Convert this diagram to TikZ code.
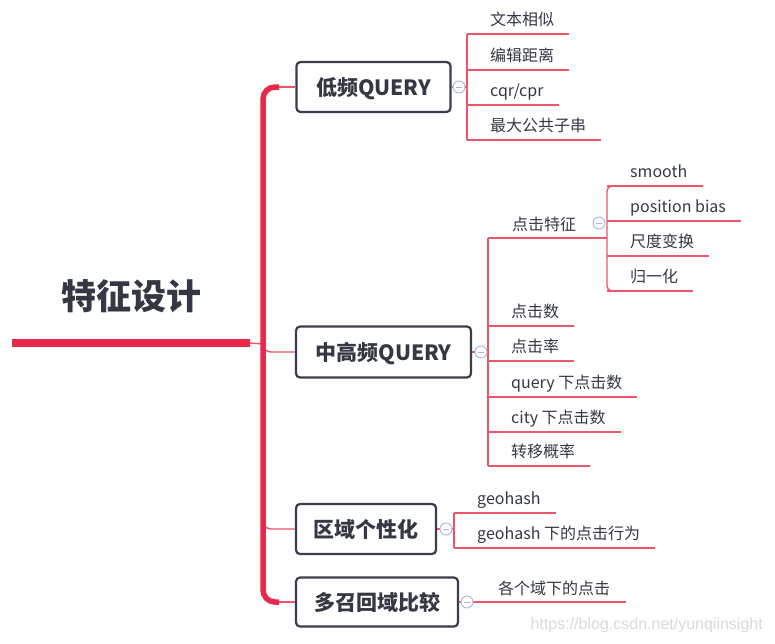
\documentclass[tikz,border=0pt]{standalone}
\usepackage{fontspec}
\setmainfont{Noto Sans CJK SC}
\newfontfamily\wmfont{Liberation Sans}
\definecolor{trunkred}{RGB}{232,41,74}
\definecolor{linered}{RGB}{236,85,108}
\definecolor{boxborder}{RGB}{58,62,74}
\definecolor{txt}{RGB}{52,56,66}
\definecolor{circ}{RGB}{170,182,220}
\newcommand\mmleaf[4]{%
  \node[leaf] (#1) at (#2+23,#3-8.5) {#4};
  \draw[thinline] (#2,#3) -- ([xshift=15pt,yshift=-8.5pt]#1.base east);}
\begin{document}
\begin{tikzpicture}[x=1pt,y=-1pt,
  mainbox/.style={draw=boxborder, line width=2.2pt, rounded corners=4pt, fill=white,
    text=txt, font=\fontsize{21}{24}\selectfont\bfseries,
    text height=18.5pt, text depth=2.5pt, inner sep=0pt, align=center},
  leaf/.style={anchor=base west, text=txt, font=\fontsize{16}{19}\selectfont, inner sep=0pt},
  thinline/.style={draw=linered, line width=1.4pt},
  collapse/.style={circle, draw=circ, fill=white, line width=0.9pt, minimum size=12pt,
    inner sep=0pt, path picture={\draw[circ, line width=0.9pt]
      ([xshift=-3pt]path picture bounding box.center) -- ([xshift=3pt]path picture bounding box.center);}}]
\useasboundingbox (0,0) rectangle (775,643);

% root
\node[font=\fontsize{35}{40}\selectfont\bfseries, text=txt, inner sep=0pt] (root) at (131,296) {特征设计};
\coordinate (rootL) at (12,343);
\coordinate (rootR) at (250,343);
\coordinate (rootJ) at (263,344);
\draw[trunkred, line width=8pt] (rootL) -- (rootR);
\draw[thinline] (rootR) -- (rootJ);

% main boxes
\node[mainbox, minimum width=154pt, minimum height=50pt] (low) at (373.5,87) {低频QUERY};
\node[mainbox, minimum width=175pt, minimum height=51pt] (mid) at (383.5,352) {中高频QUERY};
\node[mainbox, minimum width=140pt, minimum height=50pt] (reg) at (366,529) {区域个性化};
\node[mainbox, minimum width=162pt, minimum height=49pt] (multi) at (377,602) {多召回域比较};

% trunk
\coordinate (tTop) at (263,87);
\coordinate (tBot) at (263,602);
\draw[thinline] ([xshift=14pt]tTop) -- (low.west);
\draw[thinline] ([xshift=14pt]tBot) -- (multi.west);
\draw[thinline, rounded corners=8pt] (263,337) |- (mid.west);
\draw[thinline, rounded corners=8pt] (263,514) |- (reg.west);
\draw[trunkred, line width=5.5pt, rounded corners=12pt] ([xshift=16pt]tTop) -- (tTop) -- (tBot) -- ([xshift=16pt]tBot);

% low children
\draw[thinline] (low.east) -- (467,87);
\draw[thinline] (467,34) -- (467,140);
\mmleaf{l1}{467}{34}{文本相似}
\mmleaf{l2}{467}{70}{编辑距离}
\mmleaf{l3}{467}{105}{cqr/cpr}
\mmleaf{l4}{467}{140}{最大公共子串}
\node[collapse] (cLow) at (459,87) {};

% mid children
\draw[thinline] (mid.east) -- (488,352);
\draw[thinline] (488,238) -- (488,466);
\node[leaf] (click) at (512,230) {点击特征};
\draw[thinline] (488,238) -- (607,238);
\mmleaf{m1}{488}{326}{点击数}
\mmleaf{m2}{488}{361}{点击率}
\mmleaf{m3}{488}{397}{query 下点击数}
\mmleaf{m4}{488}{432}{city 下点击数}
\mmleaf{m5}{488}{466}{转移概率}
\node[collapse] (cMid) at (481,352) {};

% click feature children
\draw[thinline, rounded corners=5pt] (625,186) -- (607,186) -- (607,291) -- (625,291);
\mmleaf{s1}{607}{186}{smooth}
\mmleaf{s2}{607}{221}{position bias}
\mmleaf{s3}{607}{256}{尺度变换}
\mmleaf{s4}{607}{291}{归一化}
\node[collapse] (cClick) at (599,223) {};

% region children
\draw[thinline] (reg.east) -- (454,529);
\draw[thinline] (454,513) -- (454,548);
\mmleaf{r1}{454}{513}{geohash}
\mmleaf{r2}{454}{548}{geohash 下的点击行为}
\node[collapse] (cReg) at (446,529) {};

% multi child
\node[leaf] (cmp) at (498,594) {各个域下的点击};
\coordinate (cmpEnd) at (626,602);
\draw[thinline] (multi.east) -- (cmpEnd);
\node[collapse] (cMulti) at (467,602) {};

% watermark
\node[anchor=east, text=gray!30, font=\wmfont\fontsize{16}{18}\selectfont, inner sep=0pt] (wm) at (763,625) {https://blog.csdn.net/yunqiinsight};
\end{tikzpicture}
\end{document}
